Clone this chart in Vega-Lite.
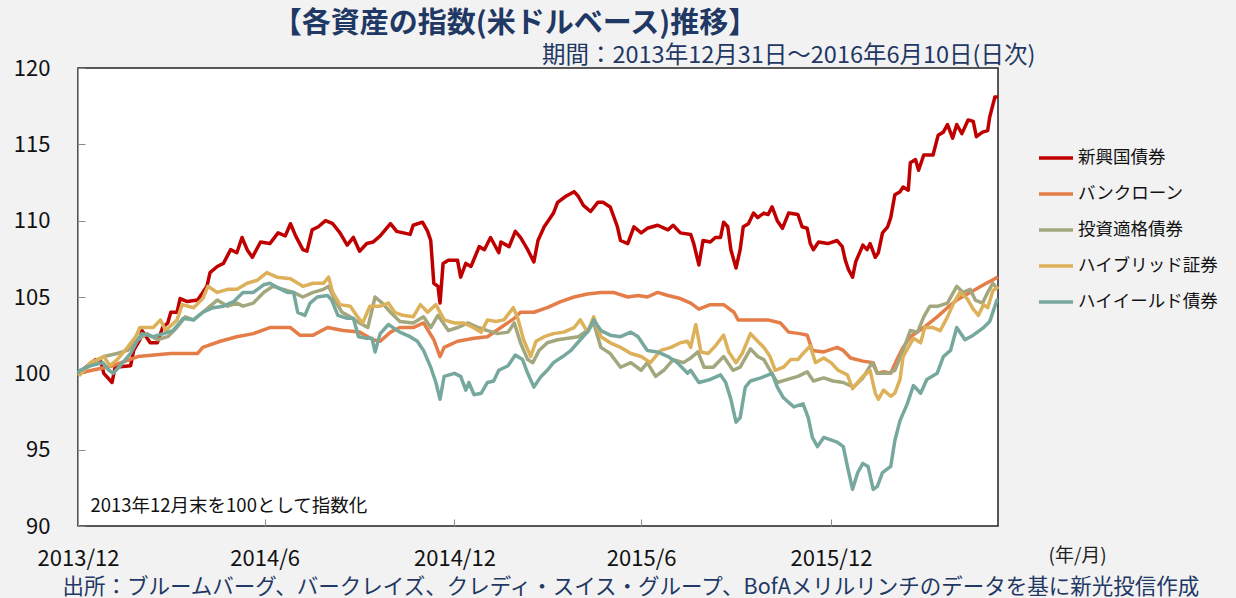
{
"$schema": "https://vega.github.io/schema/vega-lite/v6.json",
"width": 920, "height": 458,
"autosize": {"type": "none"},
"padding": {"left": 78, "top": 68, "right": 238, "bottom": 72},
"background": "#f2f2f2",
"config": {
  "font": "Noto Sans CJK JP",
  "view": {"fill": "white", "stroke": "#222", "strokeWidth": 1.5},
  "legend": {"orient": "none", "legendX": 959, "legendY": 71, "symbolType": "stroke", "symbolSize": 1156, "symbolStrokeWidth": 3.5, "labelFontSize": 17.5, "labelColor": "#111", "labelFont": "Noto Sans CJK JP", "rowPadding": 8, "labelOffset": 3}
},
"title": {"text": "【各資産の指数(米ドルベース)推移】", "fontSize": 29, "fontWeight": "bold", "color": "#1f3864", "anchor": "middle", "dx": -23, "offset": 4},
"resolve": {"axis": {"x": "independent", "y": "independent"}},
"encoding": {
  "x": {"field": "d", "type": "temporal", "scale": {"type": "utc", "domain": [{"year": 2013, "month": 12, "date": 31, "utc": true}, {"year": 2016, "month": 6, "date": 10, "utc": true}]}, "axis": null},
  "y": {"field": "v", "type": "quantitative", "scale": {"domain": [90, 120], "nice": false, "zero": false}, "axis": null}
},
"layer": [
{
  "data": {"values": [
{"d":"2013-12-31","v":100},{"d":"2014-01-17","v":100.9},{"d":"2014-01-22","v":100.8},{"d":"2014-01-25","v":100.0},{"d":"2014-02-02","v":99.4},{"d":"2014-02-05","v":100.4},{"d":"2014-02-20","v":100.5},{"d":"2014-02-23","v":101.5},{"d":"2014-03-01","v":102.2},{"d":"2014-03-03","v":102.8},{"d":"2014-03-11","v":102.0},{"d":"2014-03-18","v":102.0},{"d":"2014-03-23","v":103.0},{"d":"2014-03-28","v":103.3},{"d":"2014-03-31","v":104.0},{"d":"2014-04-06","v":104.0},{"d":"2014-04-09","v":104.9},{"d":"2014-04-16","v":104.7},{"d":"2014-04-26","v":104.8},{"d":"2014-05-01","v":105.3},{"d":"2014-05-05","v":105.7},{"d":"2014-05-08","v":106.6},{"d":"2014-05-15","v":107.0},{"d":"2014-05-21","v":107.2},{"d":"2014-05-28","v":108.1},{"d":"2014-06-03","v":107.9},{"d":"2014-06-08","v":108.9},{"d":"2014-06-13","v":108.1},{"d":"2014-06-18","v":107.6},{"d":"2014-06-26","v":108.6},{"d":"2014-07-05","v":108.5},{"d":"2014-07-13","v":109.2},{"d":"2014-07-20","v":109.0},{"d":"2014-07-25","v":109.8},{"d":"2014-07-30","v":109.0},{"d":"2014-08-06","v":108.1},{"d":"2014-08-10","v":108.0},{"d":"2014-08-15","v":109.4},{"d":"2014-08-21","v":109.6},{"d":"2014-08-28","v":110.0},{"d":"2014-09-04","v":109.8},{"d":"2014-09-11","v":109.2},{"d":"2014-09-18","v":108.4},{"d":"2014-09-24","v":108.9},{"d":"2014-09-30","v":108.0},{"d":"2014-10-07","v":108.5},{"d":"2014-10-13","v":108.6},{"d":"2014-10-20","v":109.0},{"d":"2014-10-30","v":109.8},{"d":"2014-11-05","v":109.3},{"d":"2014-11-18","v":109.1},{"d":"2014-11-21","v":109.7},{"d":"2014-11-30","v":109.9},{"d":"2014-12-05","v":109.3},{"d":"2014-12-08","v":108.7},{"d":"2014-12-11","v":105.9},{"d":"2014-12-15","v":105.7},{"d":"2014-12-17","v":104.6},{"d":"2014-12-20","v":107.2},{"d":"2014-12-25","v":107.4},{"d":"2015-01-03","v":107.4},{"d":"2015-01-06","v":106.3},{"d":"2015-01-11","v":107.2},{"d":"2015-01-16","v":107.0},{"d":"2015-01-24","v":108.3},{"d":"2015-01-29","v":108.1},{"d":"2015-02-04","v":108.9},{"d":"2015-02-12","v":107.9},{"d":"2015-02-14","v":108.6},{"d":"2015-02-22","v":108.3},{"d":"2015-02-28","v":109.3},{"d":"2015-03-05","v":108.9},{"d":"2015-03-12","v":108.1},{"d":"2015-03-18","v":107.3},{"d":"2015-03-22","v":108.7},{"d":"2015-03-28","v":109.6},{"d":"2015-04-01","v":110.0},{"d":"2015-04-06","v":110.5},{"d":"2015-04-10","v":111.2},{"d":"2015-04-18","v":111.6},{"d":"2015-04-26","v":111.9},{"d":"2015-04-30","v":111.6},{"d":"2015-05-05","v":111.0},{"d":"2015-05-12","v":110.6},{"d":"2015-05-19","v":111.2},{"d":"2015-05-24","v":111.2},{"d":"2015-05-31","v":110.9},{"d":"2015-06-07","v":109.6},{"d":"2015-06-10","v":108.7},{"d":"2015-06-17","v":108.5},{"d":"2015-06-23","v":109.6},{"d":"2015-06-30","v":109.2},{"d":"2015-07-06","v":109.5},{"d":"2015-07-16","v":109.7},{"d":"2015-07-26","v":109.4},{"d":"2015-07-31","v":109.7},{"d":"2015-08-07","v":109.2},{"d":"2015-08-17","v":109.1},{"d":"2015-08-20","v":108.5},{"d":"2015-08-25","v":107.1},{"d":"2015-08-29","v":108.7},{"d":"2015-09-05","v":108.6},{"d":"2015-09-10","v":108.9},{"d":"2015-09-15","v":108.9},{"d":"2015-09-18","v":109.9},{"d":"2015-09-22","v":109.6},{"d":"2015-09-25","v":108.1},{"d":"2015-09-30","v":106.9},{"d":"2015-10-04","v":108.1},{"d":"2015-10-07","v":109.6},{"d":"2015-10-12","v":109.8},{"d":"2015-10-17","v":110.5},{"d":"2015-10-21","v":110.2},{"d":"2015-10-27","v":110.5},{"d":"2015-10-31","v":110.4},{"d":"2015-11-04","v":110.9},{"d":"2015-11-09","v":110.0},{"d":"2015-11-14","v":109.5},{"d":"2015-11-20","v":110.5},{"d":"2015-11-29","v":110.4},{"d":"2015-12-03","v":109.6},{"d":"2015-12-08","v":109.5},{"d":"2015-12-11","v":108.5},{"d":"2015-12-14","v":108.1},{"d":"2015-12-19","v":108.6},{"d":"2015-12-28","v":108.5},{"d":"2016-01-06","v":108.7},{"d":"2016-01-11","v":108.3},{"d":"2016-01-14","v":107.4},{"d":"2016-01-17","v":106.8},{"d":"2016-01-21","v":106.3},{"d":"2016-01-24","v":107.3},{"d":"2016-01-31","v":108.4},{"d":"2016-02-04","v":108.1},{"d":"2016-02-07","v":108.5},{"d":"2016-02-12","v":107.6},{"d":"2016-02-15","v":107.9},{"d":"2016-02-19","v":109.2},{"d":"2016-02-24","v":109.6},{"d":"2016-02-27","v":110.2},{"d":"2016-03-02","v":111.7},{"d":"2016-03-07","v":111.9},{"d":"2016-03-10","v":112.2},{"d":"2016-03-15","v":112.0},{"d":"2016-03-17","v":113.8},{"d":"2016-03-22","v":114.0},{"d":"2016-03-25","v":113.3},{"d":"2016-03-30","v":114.3},{"d":"2016-04-08","v":114.3},{"d":"2016-04-13","v":115.6},{"d":"2016-04-18","v":115.8},{"d":"2016-04-22","v":116.3},{"d":"2016-04-27","v":115.4},{"d":"2016-05-01","v":116.3},{"d":"2016-05-06","v":115.7},{"d":"2016-05-12","v":116.6},{"d":"2016-05-17","v":116.5},{"d":"2016-05-20","v":115.5},{"d":"2016-05-26","v":115.8},{"d":"2016-05-31","v":115.9},{"d":"2016-06-02","v":116.8},{"d":"2016-06-07","v":118.1},{"d":"2016-06-10","v":118.1}
  ]},
  "mark": {"type": "line", "strokeWidth": 3.5, "strokeJoin": "round"},
  "encoding": {
    "x": {"field": "d", "type": "temporal", "scale": {"type": "utc", "domain": [{"year": 2013, "month": 12, "date": 31, "utc": true}, {"year": 2016, "month": 6, "date": 10, "utc": true}]},
      "axis": {"orient": "bottom", "values": [{"year": 2013, "month": 12, "date": 31, "utc": true}, {"year": 2014, "month": 6, "date": 30, "utc": true}, {"year": 2014, "month": 12, "date": 31, "utc": true}, {"year": 2015, "month": 6, "date": 30, "utc": true}, {"year": 2015, "month": 12, "date": 31, "utc": true}],
        "labelExpr": "utcFormat(datum.value, '%Y/%-m')", "labelFontSize": 22, "labelColor": "#111", "labelPadding": 29, "labelFlush": false, "labelOverlap": false, "tickSize": -7, "tickColor": "#888", "domain": false, "grid": false,
        "title": "出所：ブルームバーグ、バークレイズ、クレディ・スイス・グループ、BofAメリルリンチのデータを基に新光投信作成", "titleFontSize": 21.5, "titleFontWeight": "normal", "titleColor": "#1f3864", "titleX": -16, "titleY": 67, "titleAlign": "left", "titleBaseline": "alphabetic"}},
    "y": {"field": "v", "type": "quantitative", "scale": {"domain": [90, 120], "nice": false, "zero": false},
      "axis": {"orient": "left", "values": [90, 95, 100, 105, 110, 115, 120], "labelFontSize": 22, "labelColor": "#111", "labelPadding": 35, "labelFlush": false, "tickSize": -7, "tickColor": "#888", "domainColor": "#999", "grid": false,
        "title": "2013年12月末を100として指数化", "titleAngle": 0, "titleX": 12, "titleY": 437, "titleAlign": "left", "titleBaseline": "middle", "titleFontSize": 18.5, "titleFontWeight": "normal", "titleColor": "#111"}},
    "color": {"datum": "新興国債券", "type": "nominal", "scale": {"domain": ["新興国債券", "バンクローン", "投資適格債券", "ハイブリッド証券", "ハイイールド債券"], "range": ["#c00000", "#e47d48", "#a3a77e", "#ddb159", "#77a89e"]}, "legend": {"title": null}}
  }
},
{
  "data": {"values": [
{"d":"2013-12-31","v":100},{"d":"2014-02-03","v":100.5},{"d":"2014-02-27","v":101.1},{"d":"2014-03-31","v":101.3},{"d":"2014-04-26","v":101.3},{"d":"2014-05-01","v":101.7},{"d":"2014-05-18","v":102.1},{"d":"2014-06-03","v":102.4},{"d":"2014-06-19","v":102.6},{"d":"2014-07-05","v":103.0},{"d":"2014-07-25","v":103.0},{"d":"2014-08-03","v":102.5},{"d":"2014-08-16","v":102.5},{"d":"2014-08-30","v":103.0},{"d":"2014-09-14","v":102.8},{"d":"2014-09-30","v":102.7},{"d":"2014-10-13","v":102.2},{"d":"2014-10-20","v":102.1},{"d":"2014-10-30","v":102.7},{"d":"2014-11-08","v":103.0},{"d":"2014-11-21","v":103.0},{"d":"2014-12-01","v":103.3},{"d":"2014-12-11","v":102.2},{"d":"2014-12-17","v":101.1},{"d":"2014-12-21","v":101.7},{"d":"2015-01-03","v":102.1},{"d":"2015-01-19","v":102.3},{"d":"2015-02-01","v":102.4},{"d":"2015-02-14","v":103.0},{"d":"2015-02-27","v":103.6},{"d":"2015-03-05","v":104.0},{"d":"2015-03-18","v":104.0},{"d":"2015-03-31","v":104.3},{"d":"2015-04-13","v":104.7},{"d":"2015-04-26","v":105.0},{"d":"2015-05-09","v":105.2},{"d":"2015-05-22","v":105.3},{"d":"2015-06-03","v":105.3},{"d":"2015-06-17","v":105.0},{"d":"2015-06-27","v":105.1},{"d":"2015-07-06","v":105.0},{"d":"2015-07-16","v":105.3},{"d":"2015-07-26","v":105.1},{"d":"2015-08-07","v":104.9},{"d":"2015-08-17","v":104.6},{"d":"2015-08-25","v":104.2},{"d":"2015-09-05","v":104.5},{"d":"2015-09-18","v":104.5},{"d":"2015-09-28","v":104.0},{"d":"2015-10-02","v":103.5},{"d":"2015-10-14","v":103.5},{"d":"2015-10-31","v":103.5},{"d":"2015-11-12","v":103.3},{"d":"2015-11-20","v":102.7},{"d":"2015-12-01","v":102.6},{"d":"2015-12-08","v":102.5},{"d":"2015-12-13","v":101.5},{"d":"2015-12-24","v":101.4},{"d":"2016-01-06","v":101.7},{"d":"2016-01-12","v":101.5},{"d":"2016-01-19","v":101.0},{"d":"2016-01-31","v":100.8},{"d":"2016-02-10","v":100.7},{"d":"2016-02-14","v":100.0},{"d":"2016-02-20","v":100.1},{"d":"2016-02-27","v":100.0},{"d":"2016-03-04","v":100.9},{"d":"2016-03-10","v":101.7},{"d":"2016-03-17","v":102.4},{"d":"2016-03-30","v":103.0},{"d":"2016-04-12","v":103.7},{"d":"2016-04-22","v":104.3},{"d":"2016-05-01","v":104.8},{"d":"2016-05-14","v":105.3},{"d":"2016-05-27","v":105.8},{"d":"2016-06-07","v":106.2},{"d":"2016-06-10","v":106.3}
  ]},
  "mark": {"type": "line", "strokeWidth": 3.5, "strokeJoin": "round"},
  "encoding": {
    "x": {"field": "d", "type": "temporal", "scale": {"type": "utc", "domain": [{"year": 2013, "month": 12, "date": 31, "utc": true}, {"year": 2016, "month": 6, "date": 10, "utc": true}]},
      "axis": {"orient": "top", "labels": false, "ticks": false, "domain": false, "grid": false,
        "title": "期間：2013年12月31日～2016年6月10日(日次)", "titleX": 957, "titleY": -13, "titleAlign": "right", "titleBaseline": "middle", "titleFontSize": 23.5, "titleFontWeight": "normal", "titleColor": "#1f3864"}},
    "y": {"field": "v", "type": "quantitative", "scale": {"domain": [90, 120], "nice": false, "zero": false},
      "axis": {"orient": "right", "labels": false, "ticks": false, "domain": false, "grid": false,
        "title": "(年/月)", "titleAngle": 0, "titleX": 50, "titleY": 487, "titleAlign": "left", "titleBaseline": "middle", "titleFontSize": 19, "titleFontWeight": "normal", "titleColor": "#222"}},
    "color": {"datum": "バンクローン", "type": "nominal"}
  }
},
{
  "data": {"values": [
{"d":"2013-12-31","v":100},{"d":"2014-01-25","v":101.1},{"d":"2014-02-07","v":101.3},{"d":"2014-02-17","v":101.5},{"d":"2014-02-27","v":102.2},{"d":"2014-03-08","v":102.6},{"d":"2014-03-18","v":102.2},{"d":"2014-03-28","v":102.4},{"d":"2014-04-06","v":103.0},{"d":"2014-04-14","v":103.7},{"d":"2014-04-22","v":103.5},{"d":"2014-05-01","v":104.0},{"d":"2014-05-15","v":104.8},{"d":"2014-05-25","v":104.4},{"d":"2014-06-03","v":104.6},{"d":"2014-06-09","v":104.4},{"d":"2014-06-19","v":104.6},{"d":"2014-06-29","v":105.3},{"d":"2014-07-08","v":105.7},{"d":"2014-07-18","v":105.5},{"d":"2014-07-28","v":105.3},{"d":"2014-08-06","v":105.0},{"d":"2014-08-16","v":105.3},{"d":"2014-08-26","v":105.5},{"d":"2014-08-31","v":105.7},{"d":"2014-09-06","v":104.8},{"d":"2014-09-13","v":104.0},{"d":"2014-09-21","v":103.7},{"d":"2014-09-30","v":103.3},{"d":"2014-10-08","v":103.0},{"d":"2014-10-15","v":105.0},{"d":"2014-10-22","v":104.6},{"d":"2014-10-30","v":104.0},{"d":"2014-11-08","v":103.4},{"d":"2014-11-21","v":103.3},{"d":"2014-12-01","v":103.7},{"d":"2014-12-08","v":103.0},{"d":"2014-12-15","v":103.8},{"d":"2014-12-25","v":102.8},{"d":"2015-01-03","v":103.0},{"d":"2015-01-13","v":103.3},{"d":"2015-01-23","v":103.0},{"d":"2015-02-01","v":102.8},{"d":"2015-02-11","v":102.6},{"d":"2015-02-21","v":102.7},{"d":"2015-02-27","v":103.3},{"d":"2015-03-05","v":102.0},{"d":"2015-03-12","v":100.9},{"d":"2015-03-17","v":100.7},{"d":"2015-03-23","v":101.5},{"d":"2015-03-31","v":102.0},{"d":"2015-04-10","v":102.2},{"d":"2015-04-20","v":102.3},{"d":"2015-04-30","v":102.4},{"d":"2015-05-09","v":102.8},{"d":"2015-05-15","v":103.3},{"d":"2015-05-22","v":101.7},{"d":"2015-05-31","v":101.3},{"d":"2015-06-10","v":100.4},{"d":"2015-06-20","v":100.7},{"d":"2015-06-30","v":100.2},{"d":"2015-07-06","v":100.7},{"d":"2015-07-14","v":99.8},{"d":"2015-07-22","v":100.2},{"d":"2015-07-31","v":100.9},{"d":"2015-08-10","v":100.7},{"d":"2015-08-17","v":101.0},{"d":"2015-08-24","v":101.4},{"d":"2015-08-30","v":100.4},{"d":"2015-09-08","v":100.4},{"d":"2015-09-18","v":101.1},{"d":"2015-09-27","v":100.2},{"d":"2015-10-04","v":100.4},{"d":"2015-10-14","v":101.6},{"d":"2015-10-21","v":101.1},{"d":"2015-10-27","v":100.9},{"d":"2015-11-02","v":100.2},{"d":"2015-11-09","v":99.4},{"d":"2015-11-19","v":99.6},{"d":"2015-11-29","v":99.8},{"d":"2015-12-08","v":100.1},{"d":"2015-12-14","v":99.5},{"d":"2015-12-24","v":99.7},{"d":"2016-01-02","v":99.5},{"d":"2016-01-12","v":99.4},{"d":"2016-01-22","v":99.1},{"d":"2016-01-31","v":99.7},{"d":"2016-02-09","v":100.7},{"d":"2016-02-14","v":100.0},{"d":"2016-02-24","v":100.0},{"d":"2016-03-02","v":100.2},{"d":"2016-03-10","v":101.5},{"d":"2016-03-17","v":102.8},{"d":"2016-03-24","v":102.7},{"d":"2016-03-30","v":103.7},{"d":"2016-04-05","v":104.4},{"d":"2016-04-13","v":104.4},{"d":"2016-04-22","v":104.6},{"d":"2016-05-01","v":105.7},{"d":"2016-05-07","v":105.3},{"d":"2016-05-14","v":105.5},{"d":"2016-05-19","v":104.8},{"d":"2016-05-26","v":104.6},{"d":"2016-05-31","v":105.3},{"d":"2016-06-05","v":105.9},{"d":"2016-06-10","v":105.5}
  ]},
  "mark": {"type": "line", "strokeWidth": 3.5, "strokeJoin": "round"},
  "encoding": {"color": {"datum": "投資適格債券", "type": "nominal"}}
},
{
  "data": {"values": [
{"d":"2013-12-31","v":100},{"d":"2014-01-02","v":99.9},{"d":"2014-01-12","v":100.7},{"d":"2014-01-25","v":101.1},{"d":"2014-01-31","v":100.5},{"d":"2014-02-07","v":100.9},{"d":"2014-02-17","v":101.7},{"d":"2014-02-25","v":102.4},{"d":"2014-03-01","v":103.0},{"d":"2014-03-14","v":103.0},{"d":"2014-03-21","v":103.5},{"d":"2014-03-26","v":102.8},{"d":"2014-04-06","v":103.5},{"d":"2014-04-11","v":104.5},{"d":"2014-04-22","v":104.3},{"d":"2014-05-01","v":104.9},{"d":"2014-05-06","v":105.7},{"d":"2014-05-15","v":105.3},{"d":"2014-05-25","v":105.5},{"d":"2014-06-03","v":105.5},{"d":"2014-06-13","v":105.9},{"d":"2014-06-23","v":106.1},{"d":"2014-07-02","v":106.6},{"d":"2014-07-12","v":106.3},{"d":"2014-07-25","v":106.2},{"d":"2014-08-06","v":105.7},{"d":"2014-08-16","v":105.9},{"d":"2014-08-26","v":105.9},{"d":"2014-08-31","v":106.3},{"d":"2014-09-04","v":105.3},{"d":"2014-09-11","v":104.5},{"d":"2014-09-21","v":104.4},{"d":"2014-09-28","v":103.7},{"d":"2014-10-03","v":103.3},{"d":"2014-10-10","v":104.4},{"d":"2014-10-20","v":104.4},{"d":"2014-10-28","v":104.6},{"d":"2014-11-03","v":104.0},{"d":"2014-11-11","v":103.8},{"d":"2014-11-21","v":103.7},{"d":"2014-11-28","v":104.5},{"d":"2014-12-05","v":104.0},{"d":"2014-12-13","v":104.5},{"d":"2014-12-21","v":103.5},{"d":"2014-12-31","v":103.3},{"d":"2015-01-09","v":103.3},{"d":"2015-01-18","v":103.0},{"d":"2015-01-26","v":102.7},{"d":"2015-02-01","v":103.5},{"d":"2015-02-09","v":103.4},{"d":"2015-02-17","v":103.5},{"d":"2015-02-26","v":104.3},{"d":"2015-03-02","v":103.7},{"d":"2015-03-08","v":102.2},{"d":"2015-03-15","v":101.1},{"d":"2015-03-20","v":102.1},{"d":"2015-03-28","v":102.4},{"d":"2015-04-06","v":102.6},{"d":"2015-04-16","v":102.7},{"d":"2015-04-26","v":103.0},{"d":"2015-05-02","v":103.5},{"d":"2015-05-09","v":102.7},{"d":"2015-05-15","v":103.7},{"d":"2015-05-22","v":102.4},{"d":"2015-05-31","v":102.0},{"d":"2015-06-10","v":101.7},{"d":"2015-06-20","v":101.3},{"d":"2015-06-30","v":101.1},{"d":"2015-07-09","v":100.7},{"d":"2015-07-19","v":101.5},{"d":"2015-07-29","v":101.7},{"d":"2015-08-07","v":102.0},{"d":"2015-08-14","v":102.1},{"d":"2015-08-17","v":101.7},{"d":"2015-08-22","v":103.2},{"d":"2015-08-27","v":101.4},{"d":"2015-09-03","v":101.3},{"d":"2015-09-10","v":101.8},{"d":"2015-09-18","v":102.5},{"d":"2015-09-23","v":101.4},{"d":"2015-09-30","v":100.7},{"d":"2015-10-06","v":101.3},{"d":"2015-10-14","v":102.6},{"d":"2015-10-21","v":102.1},{"d":"2015-10-27","v":101.7},{"d":"2015-11-02","v":101.1},{"d":"2015-11-07","v":100.2},{"d":"2015-11-15","v":100.4},{"d":"2015-11-22","v":100.9},{"d":"2015-11-29","v":100.9},{"d":"2015-12-04","v":101.3},{"d":"2015-12-11","v":101.8},{"d":"2015-12-16","v":100.7},{"d":"2015-12-24","v":101.0},{"d":"2015-12-31","v":100.7},{"d":"2016-01-07","v":100.2},{"d":"2016-01-16","v":99.9},{"d":"2016-01-21","v":99.0},{"d":"2016-01-26","v":99.4},{"d":"2016-01-31","v":99.8},{"d":"2016-02-07","v":100.2},{"d":"2016-02-12","v":98.7},{"d":"2016-02-15","v":98.3},{"d":"2016-02-20","v":98.9},{"d":"2016-02-27","v":98.5},{"d":"2016-03-02","v":98.7},{"d":"2016-03-07","v":99.6},{"d":"2016-03-10","v":101.1},{"d":"2016-03-15","v":101.7},{"d":"2016-03-20","v":102.3},{"d":"2016-03-27","v":102.0},{"d":"2016-03-31","v":103.0},{"d":"2016-04-08","v":103.0},{"d":"2016-04-15","v":102.8},{"d":"2016-04-22","v":103.7},{"d":"2016-04-28","v":104.6},{"d":"2016-05-04","v":105.3},{"d":"2016-05-11","v":104.9},{"d":"2016-05-17","v":104.2},{"d":"2016-05-22","v":103.8},{"d":"2016-05-27","v":104.5},{"d":"2016-05-31","v":104.3},{"d":"2016-06-05","v":105.4},{"d":"2016-06-10","v":105.7}
  ]},
  "mark": {"type": "line", "strokeWidth": 3.5, "strokeJoin": "round"},
  "encoding": {"color": {"datum": "ハイブリッド証券", "type": "nominal"}}
},
{
  "data": {"values": [
{"d":"2013-12-31","v":100},{"d":"2014-01-02","v":100.2},{"d":"2014-01-12","v":100.5},{"d":"2014-01-24","v":100.7},{"d":"2014-01-30","v":100.2},{"d":"2014-02-03","v":100.0},{"d":"2014-02-10","v":100.5},{"d":"2014-02-20","v":101.3},{"d":"2014-02-27","v":102.2},{"d":"2014-03-03","v":102.6},{"d":"2014-03-14","v":102.4},{"d":"2014-03-24","v":102.6},{"d":"2014-04-02","v":102.8},{"d":"2014-04-12","v":103.6},{"d":"2014-04-22","v":103.5},{"d":"2014-05-01","v":104.0},{"d":"2014-05-11","v":104.3},{"d":"2014-05-21","v":104.4},{"d":"2014-05-31","v":104.7},{"d":"2014-06-09","v":105.3},{"d":"2014-06-19","v":105.3},{"d":"2014-06-29","v":105.8},{"d":"2014-07-05","v":105.9},{"d":"2014-07-13","v":105.6},{"d":"2014-07-22","v":105.3},{"d":"2014-07-28","v":105.3},{"d":"2014-08-01","v":104.0},{"d":"2014-08-08","v":103.8},{"d":"2014-08-13","v":104.6},{"d":"2014-08-20","v":105.0},{"d":"2014-08-30","v":105.1},{"d":"2014-09-03","v":104.8},{"d":"2014-09-09","v":103.8},{"d":"2014-09-18","v":103.6},{"d":"2014-09-24","v":103.6},{"d":"2014-09-29","v":102.4},{"d":"2014-10-07","v":102.3},{"d":"2014-10-12","v":102.3},{"d":"2014-10-15","v":101.4},{"d":"2014-10-20","v":102.6},{"d":"2014-10-28","v":103.2},{"d":"2014-11-08","v":102.7},{"d":"2014-11-18","v":102.4},{"d":"2014-11-25","v":102.1},{"d":"2014-12-01","v":101.5},{"d":"2014-12-08","v":100.4},{"d":"2014-12-13","v":99.4},{"d":"2014-12-17","v":98.3},{"d":"2014-12-21","v":99.8},{"d":"2014-12-31","v":100.0},{"d":"2015-01-06","v":99.8},{"d":"2015-01-11","v":98.9},{"d":"2015-01-14","v":99.4},{"d":"2015-01-19","v":98.6},{"d":"2015-01-26","v":98.7},{"d":"2015-02-01","v":99.4},{"d":"2015-02-07","v":99.5},{"d":"2015-02-12","v":100.2},{"d":"2015-02-21","v":100.5},{"d":"2015-02-28","v":101.2},{"d":"2015-03-07","v":100.9},{"d":"2015-03-12","v":100.0},{"d":"2015-03-18","v":99.1},{"d":"2015-03-25","v":99.8},{"d":"2015-03-31","v":100.2},{"d":"2015-04-06","v":100.7},{"d":"2015-04-15","v":101.1},{"d":"2015-04-23","v":101.5},{"d":"2015-05-02","v":102.2},{"d":"2015-05-10","v":102.8},{"d":"2015-05-15","v":103.5},{"d":"2015-05-22","v":102.8},{"d":"2015-05-31","v":102.5},{"d":"2015-06-10","v":102.4},{"d":"2015-06-20","v":102.7},{"d":"2015-06-27","v":102.4},{"d":"2015-07-06","v":101.5},{"d":"2015-07-16","v":101.4},{"d":"2015-07-26","v":101.1},{"d":"2015-08-04","v":100.7},{"d":"2015-08-14","v":100.0},{"d":"2015-08-17","v":100.2},{"d":"2015-08-25","v":99.4},{"d":"2015-09-05","v":99.6},{"d":"2015-09-15","v":99.9},{"d":"2015-09-20","v":99.4},{"d":"2015-09-25","v":98.3},{"d":"2015-09-30","v":96.8},{"d":"2015-10-04","v":97.1},{"d":"2015-10-09","v":99.1},{"d":"2015-10-14","v":99.5},{"d":"2015-10-24","v":99.7},{"d":"2015-11-04","v":100.0},{"d":"2015-11-09","v":99.1},{"d":"2015-11-15","v":98.4},{"d":"2015-11-25","v":97.8},{"d":"2015-12-04","v":98.0},{"d":"2015-12-09","v":97.1},{"d":"2015-12-13","v":95.8},{"d":"2015-12-18","v":95.2},{"d":"2015-12-24","v":95.8},{"d":"2016-01-06","v":95.5},{"d":"2016-01-12","v":95.2},{"d":"2016-01-16","v":93.9},{"d":"2016-01-21","v":92.4},{"d":"2016-01-26","v":93.5},{"d":"2016-01-31","v":94.1},{"d":"2016-02-05","v":93.9},{"d":"2016-02-10","v":92.4},{"d":"2016-02-14","v":92.6},{"d":"2016-02-19","v":93.5},{"d":"2016-02-27","v":93.9},{"d":"2016-03-02","v":95.6},{"d":"2016-03-07","v":96.9},{"d":"2016-03-14","v":98.0},{"d":"2016-03-20","v":99.2},{"d":"2016-03-27","v":98.7},{"d":"2016-04-02","v":99.6},{"d":"2016-04-12","v":100.0},{"d":"2016-04-18","v":101.1},{"d":"2016-04-25","v":101.5},{"d":"2016-05-01","v":103.0},{"d":"2016-05-09","v":102.2},{"d":"2016-05-17","v":102.5},{"d":"2016-05-27","v":103.0},{"d":"2016-06-02","v":103.4},{"d":"2016-06-09","v":104.8},{"d":"2016-06-10","v":104.8}
  ]},
  "mark": {"type": "line", "strokeWidth": 3.5, "strokeJoin": "round"},
  "encoding": {"color": {"datum": "ハイイールド債券", "type": "nominal"}}
}
]
}
